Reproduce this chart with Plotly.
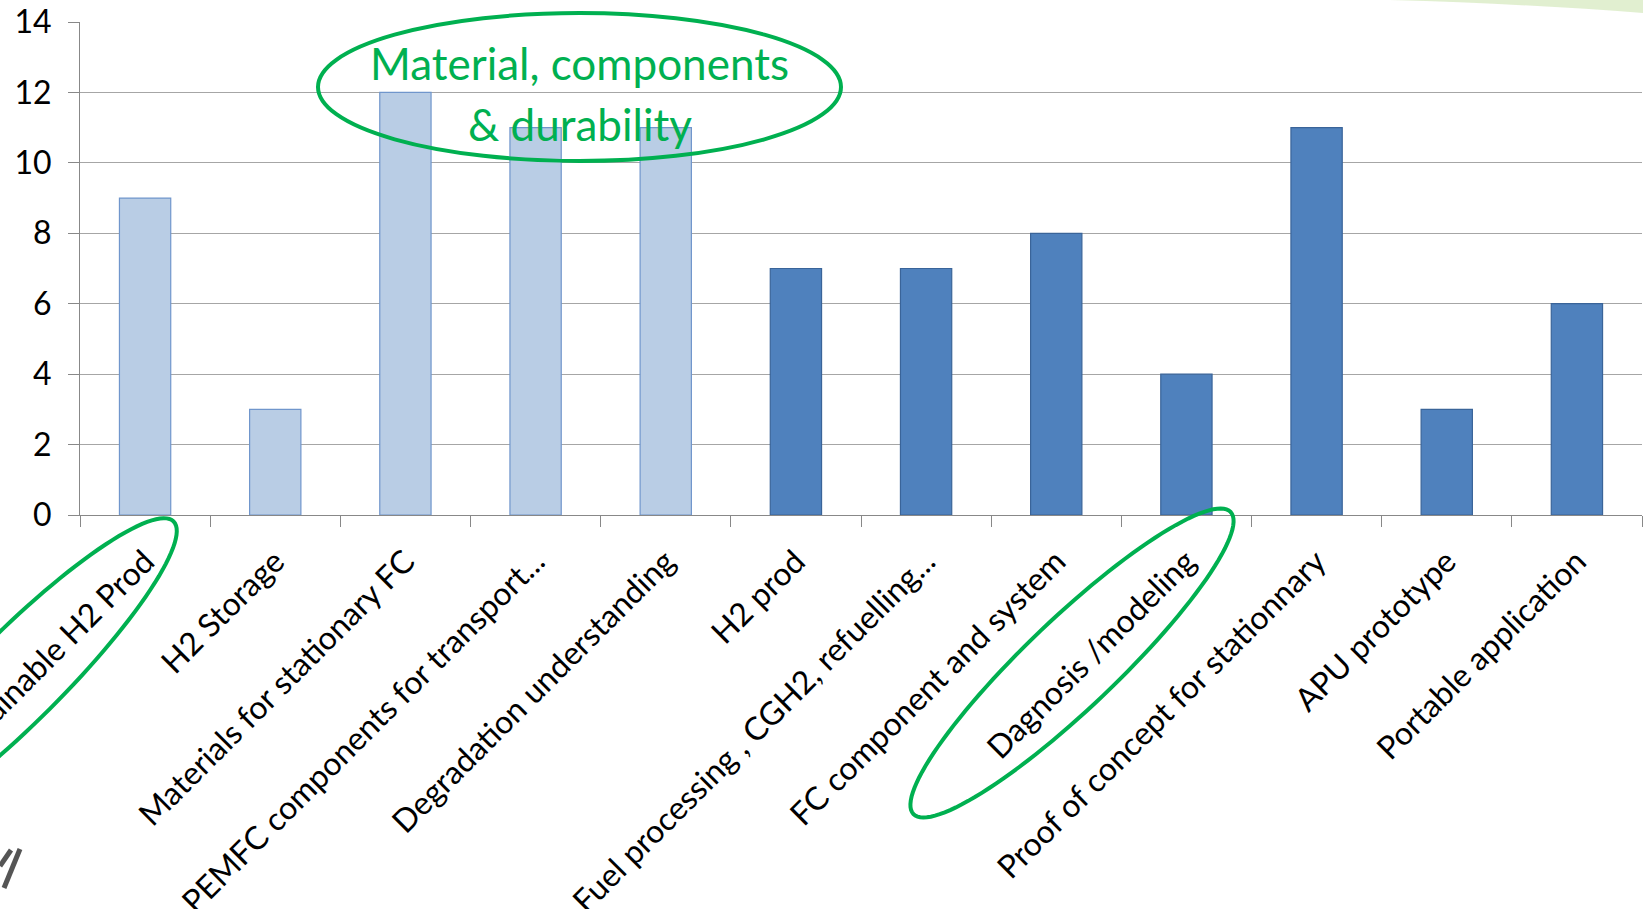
import numpy as np
import plotly.graph_objects as go

categories = [
    "Sustainable H2 Prod", "H2 Storage", "Materials for stationary FC",
    "PEMFC components for transport...", "Degradation understanding",
    "H2 prod", "Fuel processing , CGH2, refuelling...", "FC component and system",
    "Dagnosis /modeling", "Proof of concept for stationnary", "APU prototype",
    "Portable application",
]
values = [9, 3, 12, 11, 11, 7, 7, 8, 4, 11, 3, 6]
groups = ["research"] * 5 + ["demo"] * 7
y_ticks = [0, 2, 4, 6, 8, 10, 12, 14]

fill = {"research": "#B9CDE5", "demo": "#4F81BD"}
edge = {"research": "#7096CC", "demo": "#3A6499"}

W, H = 1643, 909
ML, MR, MT, MB = 80, 1, 22, 394
PW, PH = W - ML - MR, H - MT - MB


def px(x):
    return (x - ML) / PW


def py(y):
    return (MT + PH - y) / PH


def rot_ellipse(cx, cy, a, b, ang_deg, n=120):
    t = np.linspace(0, 2 * np.pi, n, endpoint=False)
    th = np.deg2rad(ang_deg)
    ux, uy = np.cos(th), -np.sin(th)
    vx, vy = np.sin(th), np.cos(th)
    xs = cx + a * np.cos(t) * ux + b * np.sin(t) * vx
    ys = cy + a * np.cos(t) * uy + b * np.sin(t) * vy
    pts = [f"{px(x):.5f},{py(y):.5f}" for x, y in zip(xs, ys)]
    return "M " + " L ".join(pts) + " Z"


fig = go.Figure()
fig.add_trace(go.Bar(
    x=categories, y=values, width=0.394,
    marker=dict(color=[fill[g] for g in groups],
                line=dict(color=[edge[g] for g in groups], width=1.2)),
))

green = "#00B050"
shapes = [
    # decorative light green band top right
    dict(type="path", xref="paper", yref="paper", layer="below",
         path=f"M {px(1390)},{py(0)} L {px(1643)},{py(0)} L {px(1643)},{py(13)} "
              f"Q {px(1530)},{py(4)} {px(1390)},{py(0)} Z",
         fillcolor="rgba(200,225,170,0.55)", line=dict(width=0)),
    dict(type="circle", xref="paper", yref="paper",
         x0=px(318), x1=px(841), y0=py(161), y1=py(13),
         line=dict(color=green, width=4)),
    dict(type="path", xref="paper", yref="paper",
         path=rot_ellipse(18, 677, 220, 45, 45), line=dict(color=green, width=4)),
    dict(type="path", xref="paper", yref="paper",
         path=rot_ellipse(1072, 663, 219, 45, 43.6), line=dict(color=green, width=4)),
    # small scribble bottom left
    dict(type="path", xref="paper", yref="paper",
         path=f"M {px(20)},{py(849)} L {px(4)},{py(888)}",
         line=dict(color="#555555", width=5)),
    dict(type="path", xref="paper", yref="paper",
         path=f"M {px(11)},{py(850)} L {px(0)},{py(866)}",
         line=dict(color="#555555", width=5)),
]

annotations = [
    dict(text="Material, components", xref="paper", yref="paper",
         x=px(579), y=py(63), showarrow=False, xanchor="center", yanchor="middle",
         font=dict(family="Lato", size=44, color=green)),
    dict(text="&amp; durability", xref="paper", yref="paper",
         x=px(580), y=py(124), showarrow=False, xanchor="center", yanchor="middle",
         font=dict(family="Lato", size=44, color=green)),
]

fig.update_layout(
    width=W, height=H,
    margin=dict(l=ML, r=MR, t=MT, b=MB, autoexpand=False),
    paper_bgcolor="white", plot_bgcolor="white",
    showlegend=False,
    font=dict(family="Lato", size=32, color="#000000"),
    shapes=shapes, annotations=annotations,
)
fig.update_xaxes(
    type="category", tickangle=-45, tickson="boundaries",
    ticks="outside", ticklen=11, tickcolor="#888888", tickwidth=1,
    showline=True, linecolor="#888888", linewidth=1,
    showgrid=False, automargin=False,
    tickfont=dict(family="Lato", size=32, color="#000000"),
    ticklabelstandoff=14,
)
fig.update_yaxes(
    range=[0, 14], tickvals=y_ticks, ticktext=[str(v) for v in y_ticks],
    ticks="outside", ticklen=11, tickcolor="#888888", tickwidth=1,
    showline=True, linecolor="#888888", linewidth=1,
    showgrid=True, gridcolor="#A6A6A6", gridwidth=1,
    zeroline=False, automargin=False,
    tickfont=dict(family="Lato", size=32, color="#000000"),
    ticklabelstandoff=10,
)

fig.write_html("out.html")
